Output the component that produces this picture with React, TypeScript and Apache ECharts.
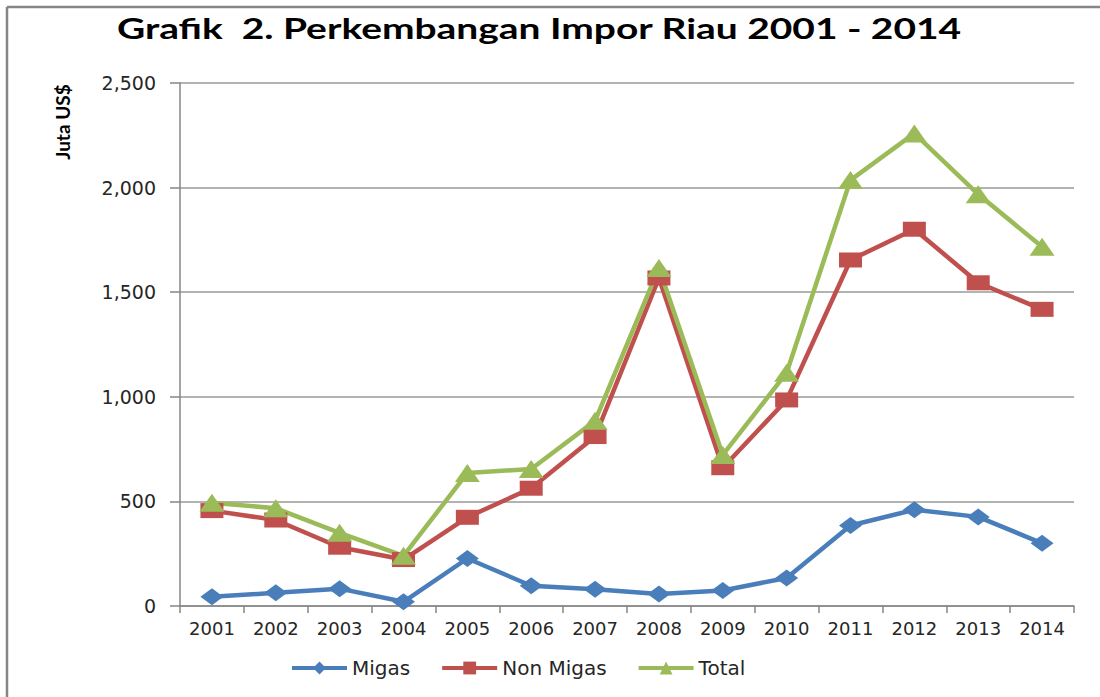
import React, { useEffect, useRef } from "react";
import * as echarts from "echarts";

const years = ["2001", "2002", "2003", "2004", "2005", "2006", "2007", "2008", "2009", "2010", "2011", "2012", "2013", "2014"];
const migas = [44, 63, 83, 20, 227, 97, 80, 57, 74, 134, 385, 460, 426, 300];
const nonMigas = [456, 411, 281, 222, 424, 563, 810, 1568, 661, 985, 1654, 1801, 1545, 1418];
const total = [494, 467, 350, 240, 636, 655, 885, 1616, 722, 1115, 2036, 2259, 1968, 1717];
const yTicks = { min: 0, max: 2500, interval: 500 };

const titleText = "Grafik  2. Perkembangan Impor Riau 2001 - 2014";
const yName = "Juta US$";

export default function App() {
  const ref = useRef<HTMLDivElement>(null);
  useEffect(() => {
    const chart = echarts.init(ref.current!, null, { renderer: "svg" });
    const axisFont = "DejaVu Sans, Verdana, sans-serif";
    const mk = (name: string, data: number[], color: string, symbol: string, size: number[]) => ({
      name,
      type: "line",
      data,
      symbol,
      symbolSize: size,
      lineStyle: { color, width: 4.5 },
      itemStyle: { color },
      z: 3,
    });
    chart.setOption({
      animation: false,
      backgroundColor: "#ffffff",
      grid: { left: 180, right: 26, top: 83, bottom: 91, containLabel: false },
      xAxis: {
        type: "category",
        data: years,
        boundaryGap: true,
        axisLine: { lineStyle: { color: "#868686", width: 1.5 } },
        axisTick: { show: true, length: 7, alignWithLabel: false, lineStyle: { color: "#868686", width: 1.5 } },
        axisLabel: { color: "#262626", fontSize: 18, fontFamily: axisFont, margin: 13 },
      },
      yAxis: {
        type: "value",
        min: yTicks.min,
        max: yTicks.max,
        interval: yTicks.interval,
        axisLine: { show: true, lineStyle: { color: "#868686", width: 1.5 } },
        axisTick: { show: true, length: 10, inside: false, lineStyle: { color: "#868686", width: 1.5 } },
        splitLine: { lineStyle: { color: "#9a9a9a", width: 1.5 } },
        axisLabel: {
          color: "#262626",
          fontSize: 19,
          fontFamily: axisFont,
          margin: 24,
          formatter: (v: number) => v.toLocaleString("en-US"),
        },
      },
      legend: {
        left: 285,
        top: 653,
        itemWidth: 55,
        itemHeight: 16,
        itemGap: 30,
        lineStyle: { width: 4 },
        textStyle: { color: "#262626", fontSize: 20, fontFamily: axisFont },
        data: ["Migas", "Non Migas", "Total"],
      },
      series: [
        mk("Migas", migas, "#4A7EBB", "diamond", [23, 17]),
        mk("Non Migas", nonMigas, "#C0504D", "rect", [23, 15]),
        mk("Total", total, "#9BBB59", "triangle", [25, 18]),
      ],
      graphic: [
        { type: "line", shape: { x1: 7, y1: 7, x2: 1100, y2: 7 }, style: { stroke: "#868686", lineWidth: 2.5 } },
        { type: "line", shape: { x1: 7, y1: 7, x2: 7, y2: 697 }, style: { stroke: "#868686", lineWidth: 2.5 } },
        {
          type: "text",
          x: 117,
          y: 14,
          scaleX: 1.39,
          style: {
            text: titleText,
            fontSize: 28,
            fontWeight: "bold",
            fontFamily: "Lato, sans-serif",
            fill: "#000000",
            verticalAlign: "top",
          },
        },
        {
          type: "text",
          x: 62,
          y: 122,
          rotation: Math.PI / 2,
          style: {
            text: yName,
            fontSize: 19,
            fontWeight: "bold",
            fontFamily: "Liberation Sans Narrow, Lato, sans-serif",
            fill: "#000000",
            align: "center",
            verticalAlign: "middle",
          },
        },
      ],
    });
    return () => chart.dispose();
  }, []);
  return <div ref={ref} style={{ position: "fixed", left: 0, top: 0, width: 1100, height: 697 }} />;
}
